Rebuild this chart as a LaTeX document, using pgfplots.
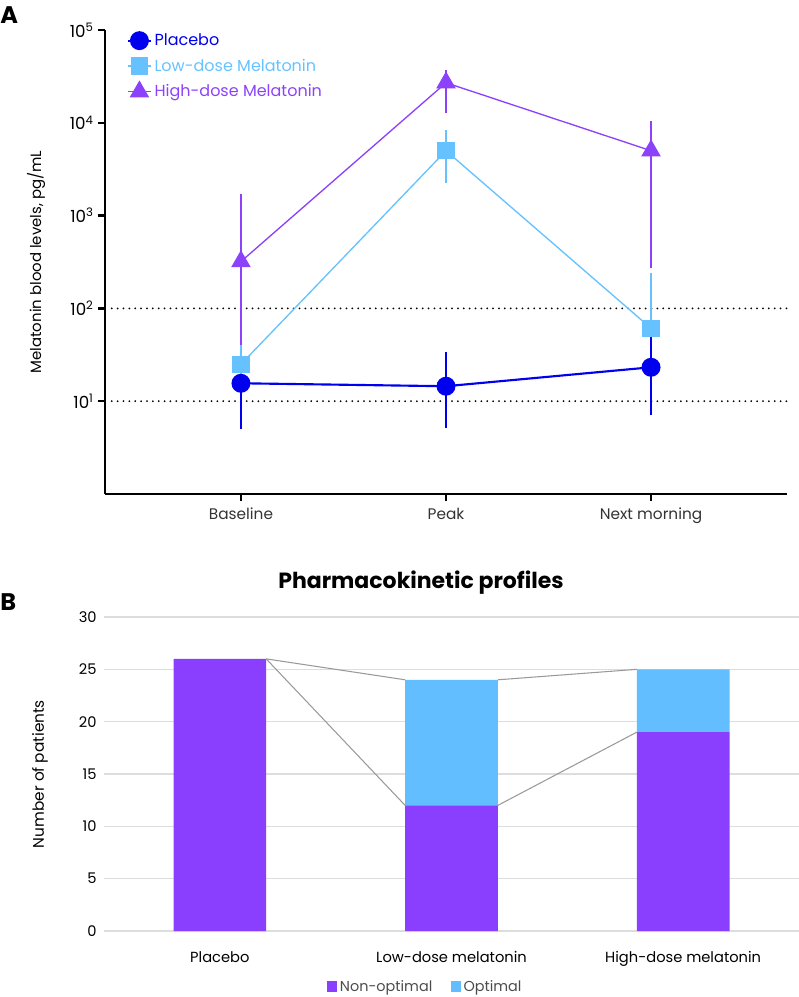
\documentclass[border=0pt]{standalone}
\usepackage{fontspec}
\setmainfont{Poppins}
\usepackage{pgfplots}
\pgfplotsset{compat=1.18}
\definecolor{cplac}{HTML}{0000EE}
\definecolor{clow}{HTML}{66C2FF}
\definecolor{chigh}{HTML}{8B42FA}
\definecolor{bpur}{HTML}{8A3FFF}
\definecolor{bblue}{HTML}{62BEFF}
\definecolor{gridc}{HTML}{DDDDDD}
\definecolor{linkc}{HTML}{9A9A9A}
\begin{document}
\begin{tikzpicture}
\path[use as bounding box] (0pt,0pt) rectangle (599.25pt,747.75pt);
\node[font=\fontsize{18}{18}\selectfont\bfseries, anchor=west, inner sep=0pt] at (0pt,736.5pt) {A};
\node[font=\fontsize{18}{18}\selectfont\bfseries, anchor=west, inner sep=0pt] at (0pt,296.25pt) {B};
\begin{axis}[
  at={(78.75pt,377.25pt)}, anchor=south west,
  scale only axis, width=511.5pt, height=348pt,
  ymode=log, ymin=1, ymax=1e5,
  xmin=-0.663, xmax=2.663,
  axis lines*=left,
  axis line style={line width=1.8pt},
  tick style={line width=1.8pt, black},
  tick align=outside, major tick length=5pt,
  yminorticks=false,
  /pgf/number format/assume math mode=true,
  xtick={0,1,2}, xticklabels={Baseline,Peak,Next morning},
  ytick={10,100,1000,10000,100000},
  yticklabels={10\textsuperscript{1},10\textsuperscript{2},10\textsuperscript{3},10\textsuperscript{4},10\textsuperscript{5}},
  yticklabel style={font=\fontsize{12.5}{14}\selectfont},
  xticklabel style={font=\fontsize{11.5}{13}\selectfont\color{black!80}, yshift=-2pt},
  ylabel={Melatonin blood levels, pg/mL},
  ylabel style={at={(axis description cs:-0.101,0.5)}, anchor=center, font=\fontsize{11.2}{13}\selectfont},
  unbounded coords=jump,
  legend style={at={(axis description cs:0.026,1.004)}, anchor=north west, draw=none, fill=none,
    font=\fontsize{12}{14}\selectfont, row sep=4.5pt},
  legend cell align=left,
  reverse legend,
  clip=false,
]
% reference lines
\addplot[black, line width=1.5pt, line cap=round, dash pattern=on 0pt off 4.4pt, forget plot] coordinates {(-0.63,10) (2.663,10)};
\addplot[black, line width=1.5pt, line cap=round, dash pattern=on 0pt off 4.4pt, forget plot] coordinates {(-0.63,100) (2.663,100)};
% error bars
\addplot[chigh, line width=0.85pt, forget plot] coordinates {(0,40) (0,1726) (1,nan) (1,12800) (1,37000) (2,nan) (2,270) (2,10500)};
\addplot[clow, line width=0.85pt, forget plot] coordinates {(0,12) (0,40) (1,nan) (1,2265) (1,8400) (2,nan) (2,15) (2,238)};
\addplot[cplac, line width=0.85pt, forget plot] coordinates {(0,5) (0,19) (1,nan) (1,5.1) (1,33.6) (2,nan) (2,7.1) (2,70)};
% series
\addplot[chigh, line width=1pt, mark=triangle*, mark size=7.5pt, mark options={solid}] coordinates {(0,320) (1,27000) (2,5000)};
\addlegendentry{\textcolor{chigh}{High-dose Melatonin}}
\addplot[clow, line width=1pt, mark=square*, mark size=6pt] coordinates {(0,25) (1,5000) (2,61)};
\addlegendentry{\textcolor{clow}{Low-dose Melatonin}}
\addplot[cplac, line width=1.6pt, mark=*, mark size=6.3pt] coordinates {(0,15.6) (1,14.5) (2,23.2)};
\addlegendentry{\textcolor{cplac}{Placebo}}
\end{axis}

\node[font=\fontsize{16.5}{18}\selectfont\bfseries] at (315.75pt,310.5pt) {Pharmacokinetic profiles};

\begin{axis}[
  at={(78pt,49.5pt)}, anchor=south west,
  scale only axis, width=521.25pt, height=235.5pt,
  xmin=-0.5, xmax=2.5, ymin=0, ymax=30,
  ybar stacked, bar width=0.4,
  /pgf/number format/assume math mode=true,
  ytick={0,5,...,30},
  xtick={0,1,2}, xticklabels={Placebo,Low-dose melatonin,High-dose melatonin},
  ymajorgrids, grid style={gridc, line width=1pt},
  axis line style={draw=none},
  major tick length=0pt,
  ticklabel style={font=\fontsize{11}{13}\selectfont},
  xticklabel style={yshift=-12pt},
  yticklabel style={xshift=-2pt},
  ylabel={Number of patients},
  ylabel style={at={(axis description cs:-0.092,0.5)}, anchor=center, font=\fontsize{11.5}{13}\selectfont},
  legend style={at={(axis description cs:0.463,-0.178)}, anchor=center, draw=none, fill=none,
    legend columns=2, font=\fontsize{10.8}{12}\selectfont\color{black!70},
    /tikz/every even column/.append style={column sep=12pt}},
  legend image code/.code={\fill[#1] (0cm,-0.13cm) rectangle (0.26cm,0.15cm);},
]
\addplot[fill=bpur, draw=none] coordinates {(0,26) (1,12) (2,19)};
\addlegendentry{Non-optimal}
\addplot[fill=bblue, draw=none] coordinates {(0,0) (1,12) (2,6)};
\addlegendentry{Optimal}
\end{axis}

\begin{axis}[
  at={(78pt,49.5pt)}, anchor=south west,
  scale only axis, width=521.25pt, height=235.5pt,
  xmin=-0.5, xmax=2.5, ymin=0, ymax=30,
  hide axis,
]
\addplot[linkc, line width=0.8pt] coordinates {(0.2,26) (0.8,24)};
\addplot[linkc, line width=0.8pt] coordinates {(0.2,26) (0.8,12)};
\addplot[linkc, line width=0.8pt] coordinates {(1.2,24) (1.8,25)};
\addplot[linkc, line width=0.8pt] coordinates {(1.2,12) (1.8,19)};
\end{axis}
\end{tikzpicture}
\end{document}
